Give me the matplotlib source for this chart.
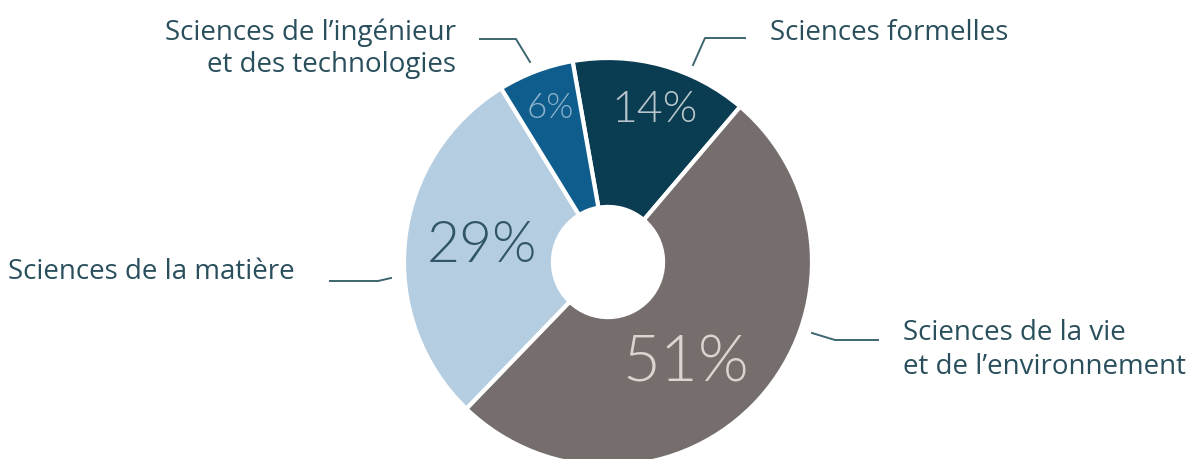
import matplotlib
matplotlib.use("Agg")
import matplotlib.pyplot as plt

categories = ["Sciences formelles", "Sciences de la vie\net de l\u2019environnement",
              "Sciences de la mati\u00e8re", "Sciences de l\u2019ing\u00e9nieur\net des technologies"]
values = [14, 51, 29, 6]
pct_labels = ["14%", "51%", "29%", "6%"]
colors = ["#0b3d52", "#766e6c", "#b5cde1", "#0f5d8c"]
pct_colors = ["#b9c6cc", "#ddd3d0", "#2f5566", "#8fb3cc"]

W, H = 1191, 459
fig = plt.figure(figsize=(W / 100, H / 100), dpi=100)
ax = fig.add_axes([0, 0, 1, 1])

def Y(y):
    return H - y

cx, cy, R = 608, Y(262), 204
wedges, _ = ax.pie(values, colors=colors, startangle=100, counterclock=False,
                   center=(cx, cy), radius=R, frame=True,
                   wedgeprops=dict(width=R * 0.73, edgecolor="white", linewidth=3))
ax.set_xlim(0, W)
ax.set_ylim(0, H)
ax.set_aspect("equal")
ax.axis("off")

light = dict(family=["Lato", "DejaVu Sans"], fontweight=300)
pct_pos = [(655, 110, 32), (686, 364, 47), (482, 246, 41), (550, 108, 25)]
for (x, y, s), t, c in zip(pct_pos, pct_labels, pct_colors):
    ax.text(x, Y(y), t, ha="center", va="center", fontsize=s, color=c, **light)

tc = "#2a4f5c"
lf = dict(family=["Open Sans", "DejaVu Sans"], fontsize=20, color=tc)
ax.text(770, Y(33), categories[0], ha="left", va="center", **lf)
ax.text(903, Y(350), categories[1], ha="left", va="center", linespacing=1.27, **lf)
ax.text(8, Y(272), categories[2], ha="left", va="center", **lf)
ax.text(456, Y(49), categories[3], ha="right", va="center", multialignment="right",
        linespacing=1.18, **lf)

lc = "#3d6670"
ax.plot([745, 705, 693], [Y(38), Y(38), Y(65)], color=lc, lw=1.4)
ax.plot([480, 516, 530], [Y(39), Y(39), Y(62)], color=lc, lw=1.4)
ax.plot([330, 378, 391], [Y(281), Y(281), Y(278)], color=lc, lw=1.4)
ax.plot([812, 835, 878], [Y(333), Y(340), Y(340)], color=lc, lw=1.4)

fig.savefig("out.png", dpi=100, facecolor="white")
